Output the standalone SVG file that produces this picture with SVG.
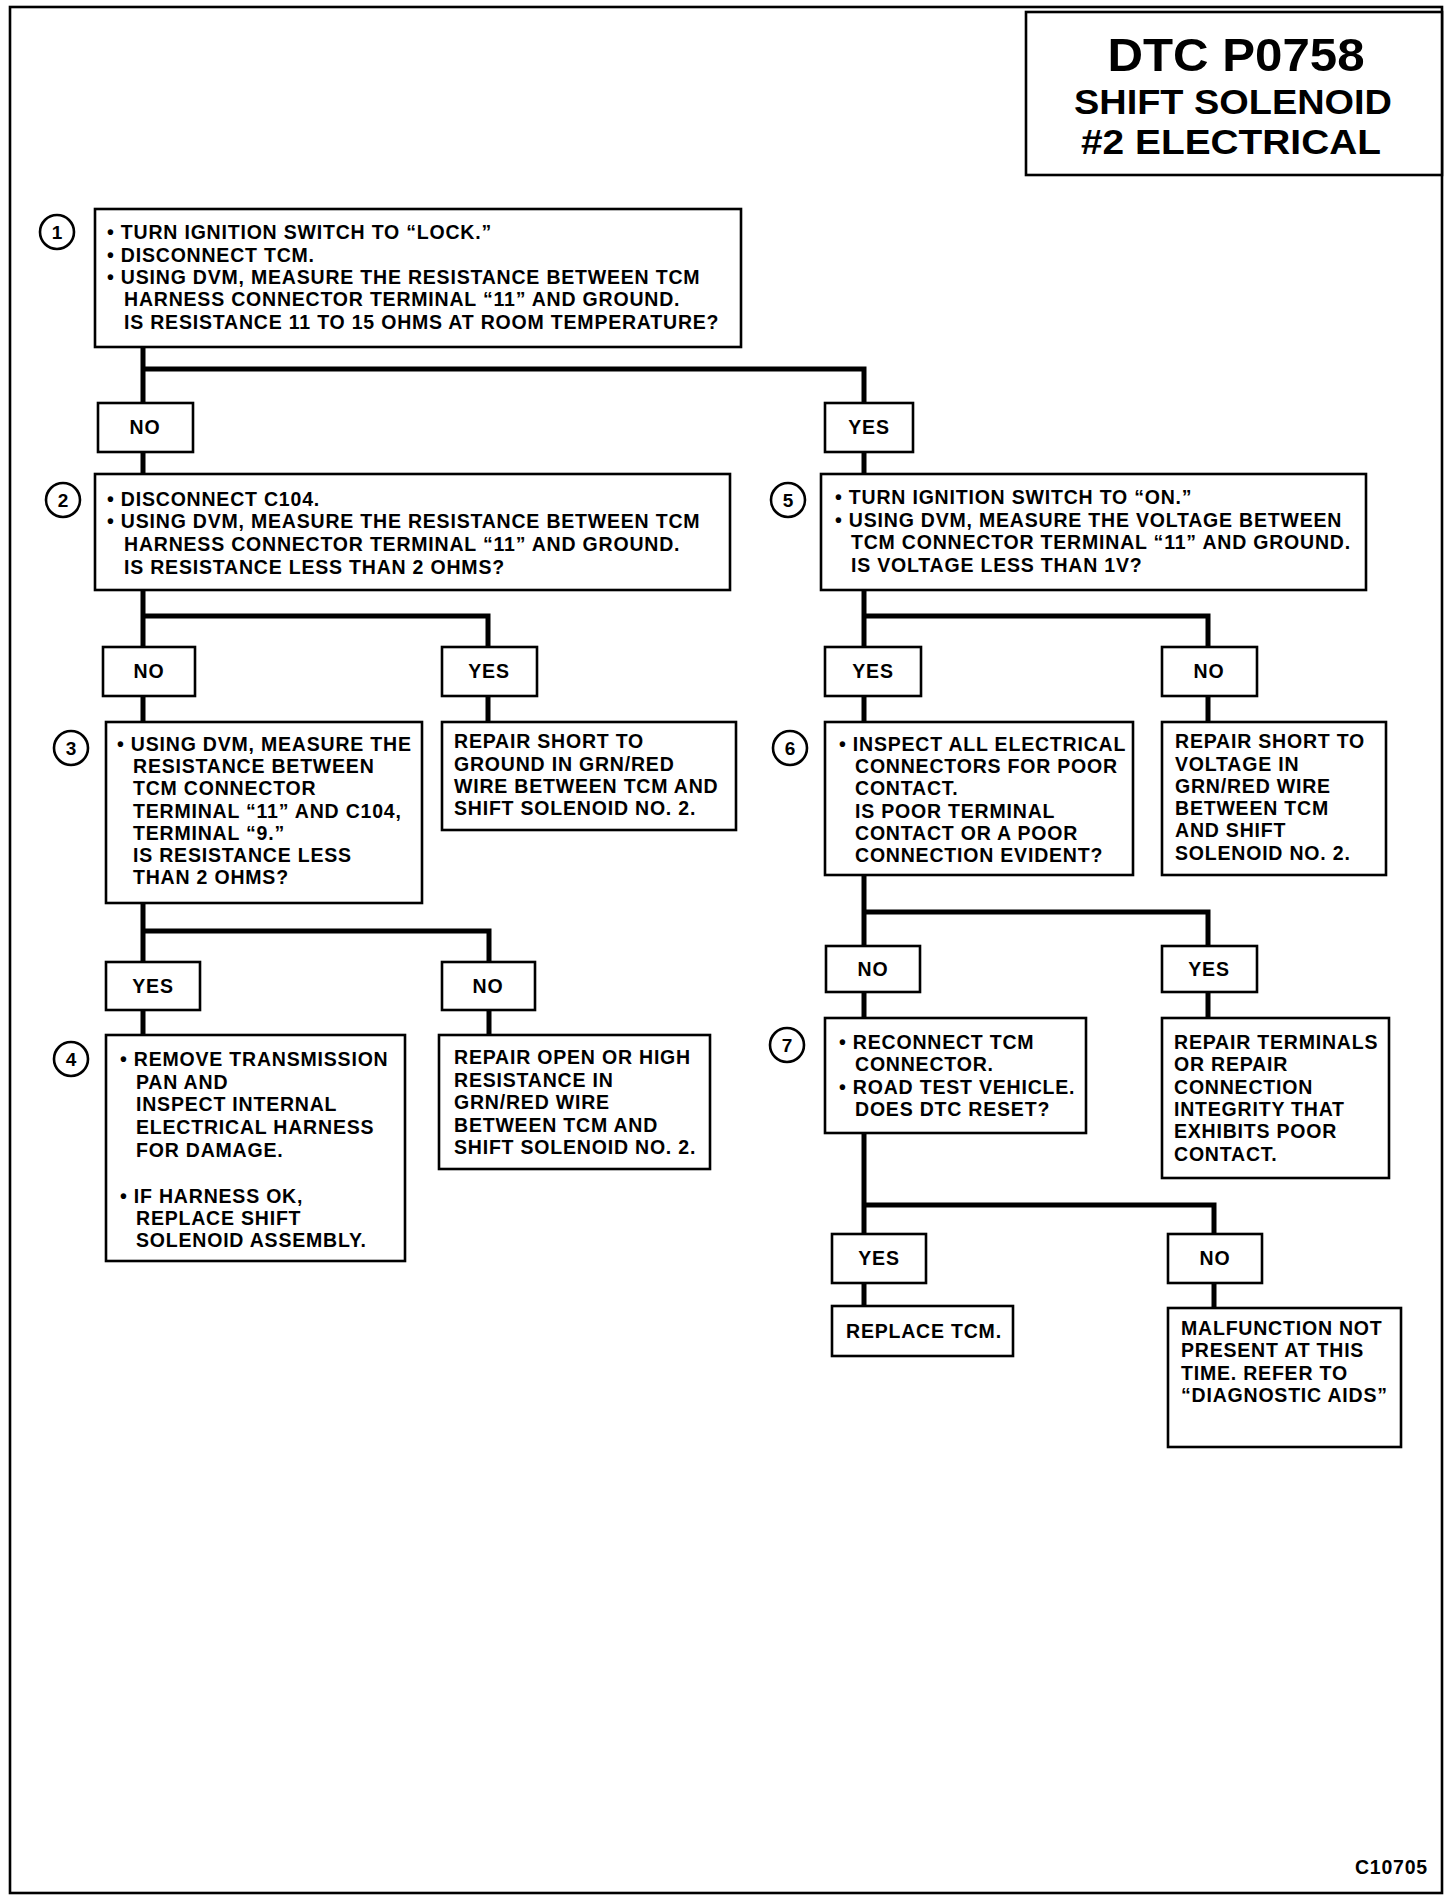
<svg xmlns="http://www.w3.org/2000/svg" width="1456" height="1902" viewBox="0 0 1456 1902">
<style>
.bx{fill:#fff;stroke:#000;stroke-width:2.6}
.cn{fill:none;stroke:#000;stroke-width:5;stroke-linejoin:miter;stroke-linecap:square}
.t{font-family:"Liberation Sans",Arial,Helvetica,sans-serif;font-weight:bold;font-size:19.5px;letter-spacing:0.8px;fill:#000}
.lb{font-family:"Liberation Sans",Arial,Helvetica,sans-serif;font-weight:bold;font-size:19.5px;letter-spacing:0.8px;fill:#000;text-anchor:middle}
.num{font-family:"Liberation Sans",Arial,Helvetica,sans-serif;font-weight:bold;font-size:19px;fill:#000;text-anchor:middle}
.ci{fill:#fff;stroke:#000;stroke-width:2.6}
.ti{font-family:"Liberation Sans",Arial,Helvetica,sans-serif;font-weight:bold;fill:#000;text-anchor:middle}
</style>
<rect x="0" y="0" width="1456" height="1902" fill="#fff"/>
<rect id="frame" x="10" y="7" width="1432" height="1886" fill="none" stroke="#000" stroke-width="2.6"/>

<g id="title">
<rect x="1026" y="12" width="416" height="163" class="bx"/>
<text class="ti" x="1236" y="71" font-size="47" textLength="257" lengthAdjust="spacingAndGlyphs">DTC P0758</text>
<text class="ti" x="1233" y="114" font-size="35" textLength="318" lengthAdjust="spacingAndGlyphs">SHIFT SOLENOID</text>
<text class="ti" x="1231" y="153.5" font-size="35" textLength="300" lengthAdjust="spacingAndGlyphs">#2 ELECTRICAL</text>
</g>

<g id="connectors">
<path class="cn" d="M143,347 V403 M143,369 H864 V403 M143,452 V474 M864,452 V474"/>
<path class="cn" d="M143,590 V647 M143,616 H488 V647 M143,696 V722 M488,696 V722"/>
<path class="cn" d="M864,590 V647 M864,616 H1208 V647 M864,696 V722 M1208,696 V722"/>
<path class="cn" d="M143,903 V962 M143,931 H489 V962 M143,1010 V1035 M489,1010 V1035"/>
<path class="cn" d="M864,875 V946 M864,912 H1208 V946 M864,992 V1018 M1208,992 V1018"/>
<path class="cn" d="M864,1133 V1234 M864,1205 H1214 V1234 M864,1283 V1306 M1214,1283 V1308"/>
</g>

<g id="step1">
<circle cx="57" cy="232" r="17" class="ci"/><text class="num" x="57" y="239">1</text>
<rect x="95" y="209" width="646" height="138" class="bx"/>
<text class="t" x="107" y="239">• TURN IGNITION SWITCH TO “LOCK.”</text>
<text class="t" x="107" y="262">• DISCONNECT TCM.</text>
<text class="t" x="107" y="284">• USING DVM, MEASURE THE RESISTANCE BETWEEN TCM</text>
<text class="t" x="124" y="306">HARNESS CONNECTOR TERMINAL “11” AND GROUND.</text>
<text class="t" x="124" y="329">IS RESISTANCE 11 TO 15 OHMS AT ROOM TEMPERATURE?</text>
</g>

<g id="l1no"><rect x="98" y="403" width="95" height="49" class="bx"/><text class="lb" x="145" y="434">NO</text></g>
<g id="l1yes"><rect x="825" y="403" width="88" height="49" class="bx"/><text class="lb" x="869" y="434">YES</text></g>

<g id="step2">
<circle cx="63" cy="500" r="17" class="ci"/><text class="num" x="63" y="507">2</text>
<rect x="95" y="474" width="635" height="116" class="bx"/>
<text class="t" x="107" y="506">• DISCONNECT C104.</text>
<text class="t" x="107" y="528">• USING DVM, MEASURE THE RESISTANCE BETWEEN TCM</text>
<text class="t" x="124" y="551">HARNESS CONNECTOR TERMINAL “11” AND GROUND.</text>
<text class="t" x="124" y="574">IS RESISTANCE LESS THAN 2 OHMS?</text>
</g>

<g id="step5">
<circle cx="788" cy="500" r="17" class="ci"/><text class="num" x="788" y="507">5</text>
<rect x="821" y="474" width="545" height="116" class="bx"/>
<text class="t" x="835" y="504">• TURN IGNITION SWITCH TO “ON.”</text>
<text class="t" x="835" y="527">• USING DVM, MEASURE THE VOLTAGE BETWEEN</text>
<text class="t" x="851" y="549">TCM CONNECTOR TERMINAL “11” AND GROUND.</text>
<text class="t" x="851" y="572">IS VOLTAGE LESS THAN 1V?</text>
</g>

<g id="l2no"><rect x="103" y="647" width="92" height="49" class="bx"/><text class="lb" x="149" y="678">NO</text></g>
<g id="l2yes"><rect x="442" y="647" width="95" height="49" class="bx"/><text class="lb" x="489" y="678">YES</text></g>
<g id="l5yes"><rect x="825" y="647" width="96" height="49" class="bx"/><text class="lb" x="873" y="678">YES</text></g>
<g id="l5no"><rect x="1162" y="647" width="95" height="49" class="bx"/><text class="lb" x="1209" y="678">NO</text></g>

<g id="step3">
<circle cx="71" cy="748" r="17" class="ci"/><text class="num" x="71" y="755">3</text>
<rect x="106" y="722" width="316" height="181" class="bx"/>
<text class="t" x="117" y="751">• USING DVM, MEASURE THE</text>
<text class="t" x="133" y="773">RESISTANCE BETWEEN</text>
<text class="t" x="133" y="795">TCM CONNECTOR</text>
<text class="t" x="133" y="818">TERMINAL “11” AND C104,</text>
<text class="t" x="133" y="840">TERMINAL “9.”</text>
<text class="t" x="133" y="862">IS RESISTANCE LESS</text>
<text class="t" x="133" y="884">THAN 2 OHMS?</text>
</g>

<g id="shortground">
<rect x="442" y="722" width="294" height="108" class="bx"/>
<text class="t" x="454" y="748">REPAIR SHORT TO</text>
<text class="t" x="454" y="771">GROUND IN GRN/RED</text>
<text class="t" x="454" y="793">WIRE BETWEEN TCM AND</text>
<text class="t" x="454" y="815">SHIFT SOLENOID NO. 2.</text>
</g>

<g id="step6">
<circle cx="790" cy="748" r="17" class="ci"/><text class="num" x="790" y="755">6</text>
<rect x="825" y="722" width="308" height="153" class="bx"/>
<text class="t" x="839" y="751">• INSPECT ALL ELECTRICAL</text>
<text class="t" x="855" y="773">CONNECTORS FOR POOR</text>
<text class="t" x="855" y="795">CONTACT.</text>
<text class="t" x="855" y="818">IS POOR TERMINAL</text>
<text class="t" x="855" y="840">CONTACT OR A POOR</text>
<text class="t" x="855" y="862">CONNECTION EVIDENT?</text>
</g>

<g id="shortvoltage">
<rect x="1162" y="722" width="224" height="153" class="bx"/>
<text class="t" x="1175" y="748">REPAIR SHORT TO</text>
<text class="t" x="1175" y="771">VOLTAGE IN</text>
<text class="t" x="1175" y="793">GRN/RED WIRE</text>
<text class="t" x="1175" y="815">BETWEEN TCM</text>
<text class="t" x="1175" y="837">AND SHIFT</text>
<text class="t" x="1175" y="860">SOLENOID NO. 2.</text>
</g>

<g id="l6no"><rect x="826" y="946" width="94" height="46" class="bx"/><text class="lb" x="873" y="976">NO</text></g>
<g id="l6yes"><rect x="1162" y="946" width="95" height="46" class="bx"/><text class="lb" x="1209" y="976">YES</text></g>
<g id="l3yes"><rect x="106" y="962" width="94" height="48" class="bx"/><text class="lb" x="153" y="993">YES</text></g>
<g id="l3no"><rect x="442" y="962" width="93" height="48" class="bx"/><text class="lb" x="488" y="993">NO</text></g>

<g id="step4">
<circle cx="71" cy="1059" r="17" class="ci"/><text class="num" x="71" y="1066">4</text>
<rect x="106" y="1035" width="299" height="226" class="bx"/>
<text class="t" x="120" y="1066">• REMOVE TRANSMISSION</text>
<text class="t" x="136" y="1089">PAN AND</text>
<text class="t" x="136" y="1111">INSPECT INTERNAL</text>
<text class="t" x="136" y="1134">ELECTRICAL HARNESS</text>
<text class="t" x="136" y="1157">FOR DAMAGE.</text>
<text class="t" x="120" y="1203">• IF HARNESS OK,</text>
<text class="t" x="136" y="1225">REPLACE SHIFT</text>
<text class="t" x="136" y="1247">SOLENOID ASSEMBLY.</text>
</g>

<g id="repairopen">
<rect x="439" y="1035" width="271" height="134" class="bx"/>
<text class="t" x="454" y="1064">REPAIR OPEN OR HIGH</text>
<text class="t" x="454" y="1087">RESISTANCE IN</text>
<text class="t" x="454" y="1109">GRN/RED WIRE</text>
<text class="t" x="454" y="1132">BETWEEN TCM AND</text>
<text class="t" x="454" y="1154">SHIFT SOLENOID NO. 2.</text>
</g>

<g id="step7">
<circle cx="787" cy="1045" r="17" class="ci"/><text class="num" x="787" y="1052">7</text>
<rect x="825" y="1018" width="261" height="115" class="bx"/>
<text class="t" x="839" y="1049">• RECONNECT TCM</text>
<text class="t" x="855" y="1071">CONNECTOR.</text>
<text class="t" x="839" y="1094">• ROAD TEST VEHICLE.</text>
<text class="t" x="855" y="1116">DOES DTC RESET?</text>
</g>

<g id="repairterminals">
<rect x="1162" y="1018" width="227" height="160" class="bx"/>
<text class="t" x="1174" y="1049">REPAIR TERMINALS</text>
<text class="t" x="1174" y="1071">OR REPAIR</text>
<text class="t" x="1174" y="1094">CONNECTION</text>
<text class="t" x="1174" y="1116">INTEGRITY THAT</text>
<text class="t" x="1174" y="1138">EXHIBITS POOR</text>
<text class="t" x="1174" y="1161">CONTACT.</text>
</g>

<g id="l7yes"><rect x="832" y="1234" width="94" height="49" class="bx"/><text class="lb" x="879" y="1265">YES</text></g>
<g id="l7no"><rect x="1168" y="1234" width="94" height="49" class="bx"/><text class="lb" x="1215" y="1265">NO</text></g>

<g id="replacetcm">
<rect x="832" y="1306" width="181" height="50" class="bx"/>
<text class="t" x="846" y="1338">REPLACE TCM.</text>
</g>

<g id="malfunction">
<rect x="1168" y="1308" width="233" height="139" class="bx"/>
<text class="t" x="1181" y="1335">MALFUNCTION NOT</text>
<text class="t" x="1181" y="1357">PRESENT AT THIS</text>
<text class="t" x="1181" y="1380">TIME. REFER TO</text>
<text class="t" x="1181" y="1402">“DIAGNOSTIC AIDS”</text>
</g>

<text id="code" class="t" x="1428" y="1874" text-anchor="end" font-size="18px">C10705</text>
</svg>
